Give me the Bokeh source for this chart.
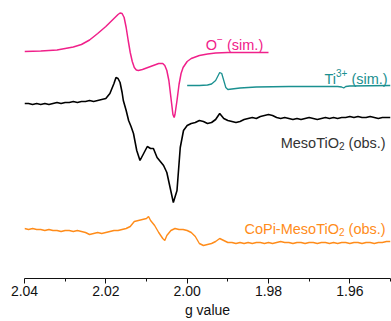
from bokeh.plotting import figure
from bokeh.models import Range1d, FixedTicker, PrintfTickFormatter, Label
from bokeh.embed import file_html
from bokeh.resources import INLINE

# ---------------- data (g value vs. EPR intensity, arbitrary units with offsets) -------------
g_ticks = [2.04, 2.02, 2.00, 1.98, 1.96]
g_minor = [2.03, 2.01, 1.99, 1.97, 1.95]

# O- simulation (magenta)
g_o = [2.040, 2.036, 2.032, 2.030, 2.028, 2.026, 2.024, 2.022, 2.020, 2.019, 2.018, 2.017,
       2.0165, 2.016, 2.0155, 2.015, 2.0145, 2.014, 2.0135, 2.013, 2.0125, 2.012, 2.011, 2.010,
       2.009, 2.008, 2.007, 2.006, 2.0055, 2.005, 2.0045, 2.004, 2.0035, 2.0032, 2.003, 2.0025,
       2.002, 2.0015, 2.001, 2.000, 1.999, 1.997, 1.995, 1.993, 1.990, 1.985, 1.980]
i_o = [227, 227.5, 228.5, 230, 231.5, 234, 238.5, 245, 252, 256, 260, 264,
       265.5, 265, 261, 251, 238, 226, 217, 211, 208.5, 208, 209, 210.5,
       212, 213.5, 215, 215, 213, 208, 198, 181, 164, 161, 164, 178,
       194, 205, 211, 217, 220, 223, 224.5, 225.5, 226, 226, 226]

# Ti3+ simulation (teal)
g_ti = [2.000, 1.997, 1.995, 1.994, 1.993, 1.9925, 1.992, 1.9915, 1.991, 1.9905, 1.990,
        1.989, 1.987, 1.983, 1.975, 1.963, 1.962, 1.9615, 1.961, 1.960, 1.950]
i_ti = [193, 193, 193.5, 194.5, 198, 202, 206, 205, 198, 191, 189,
        189.5, 190.5, 191.5, 192, 192, 191.5, 190.5, 192, 192.5, 193]

# MesoTiO2 observed (black)
g_meso = [2.040, 2.039, 2.038, 2.037, 2.036, 2.035, 2.034, 2.033, 2.032, 2.031, 2.030,
          2.029, 2.028, 2.027, 2.026, 2.025, 2.024, 2.023, 2.022, 2.021,
          2.020, 2.019, 2.018, 2.0175, 2.017, 2.0165, 2.016, 2.0157, 2.015, 2.0144, 2.0138,
          2.0132, 2.0124, 2.0116, 2.0107, 2.0098, 2.0090, 2.0083, 2.0074, 2.0066, 2.0058,
          2.0050, 2.0042, 2.0034, 2.0025, 2.0017, 2.0009, 2.000,
          1.999, 1.998, 1.997, 1.996, 1.995, 1.994, 1.993, 1.992, 1.991, 1.990,
          1.989, 1.988, 1.987, 1.986, 1.985, 1.984, 1.983, 1.982, 1.981, 1.980,
          1.979, 1.978, 1.977, 1.976, 1.975, 1.974, 1.973, 1.972, 1.971, 1.970,
          1.969, 1.968, 1.967, 1.966, 1.965, 1.964, 1.963, 1.962, 1.961, 1.960,
          1.959, 1.958, 1.957, 1.956, 1.955, 1.954, 1.953, 1.952, 1.951, 1.950]
i_meso = [175, 175, 174, 175, 174, 175, 174, 175, 176, 175, 176,
          176, 177, 176, 177, 177, 178, 177, 178, 179,
          180, 185, 195, 201, 200, 196, 186, 178, 168, 158, 152,
          145, 128, 118, 125, 132, 130, 130, 121, 117, 113,
          106, 91, 76, 88, 131, 148, 153,
          155, 156, 158, 157, 155, 156, 159, 165, 160, 158,
          157, 156, 157, 159, 160, 161, 160, 162, 163, 164,
          163, 161, 160, 161, 160, 159, 160, 159, 160, 161,
          160, 159, 160, 161, 160, 161, 160, 161, 161, 162,
          161, 162, 161, 161, 162, 161, 160, 161, 161, 161]

# CoPi-MesoTiO2 observed (orange)
g_copi = [2.040, 2.039, 2.038, 2.037, 2.036, 2.035, 2.034, 2.033, 2.032, 2.031, 2.030,
          2.029, 2.028, 2.027, 2.026, 2.025, 2.024, 2.023, 2.022, 2.021,
          2.020, 2.019, 2.018, 2.017, 2.016, 2.015, 2.014, 2.013, 2.012, 2.011, 2.010,
          2.0095, 2.009, 2.008, 2.007, 2.006, 2.0055, 2.005, 2.004, 2.003, 2.002, 2.001, 2.000,
          1.999, 1.998, 1.997, 1.996, 1.995, 1.994, 1.993, 1.992, 1.991, 1.990,
          1.989, 1.988, 1.987, 1.986, 1.985, 1.984, 1.983, 1.982, 1.981, 1.980,
          1.979, 1.978, 1.977, 1.976, 1.975, 1.974, 1.973, 1.972, 1.971, 1.970,
          1.969, 1.968, 1.967, 1.966, 1.965, 1.964, 1.963, 1.962, 1.961, 1.960,
          1.959, 1.958, 1.957, 1.956, 1.955, 1.954, 1.953, 1.952, 1.951, 1.950]
i_copi = [50, 49, 50, 49, 49, 48, 49, 48, 48, 47, 48,
          48, 47, 48, 47, 46, 44, 45, 46, 45,
          46, 47, 48, 48, 49, 50, 52, 57, 58, 59, 60,
          62, 58, 53, 46, 40, 38, 43, 48, 50, 49, 49, 48,
          46, 42, 35, 33, 34, 35, 37, 40, 38, 36,
          36, 35, 36, 35, 36, 35, 36, 36, 35, 36,
          35, 36, 37, 36, 36, 35, 36, 36, 35, 36,
          36, 35, 36, 36, 35, 36, 35, 36, 36, 35,
          36, 36, 35, 36, 36, 35, 36, 36, 37, 37]

# trace labels: (main text, script text, script kind, tail text)
label_main = ["O", "Ti", "MesoTiO", "CoPi-MesoTiO"]
label_script = ["\u2212", "3+", "2", "2"]
label_kind = ["sup", "sup", "sub", "sub"]
label_tail = ["(sim.)", "(sim.)", "(obs.)", "(obs.)"]
label_g = [1.9813, 1.9507, 1.9512, 1.9512]   # right edge of each label
label_i = [234, 200, 136, 50]                # baseline of each label

c_o = "#F0208A"
c_ti = "#1A9090"
c_meso = "#000000"
c_copi = "#FF8C1A"
label_colors = [c_o, c_ti, "#333333", c_copi]

FONT = "Liberation Sans"
MAIN_PX = 14.5
SCRIPT_PX = 10
# Arial / Liberation Sans advance widths (1/1000 em) used to chain label pieces
ADV = {"M": 833, "e": 556, "s": 500, "o": 556, "T": 611, "i": 222, "O": 778, " ": 278,
       "(": 333, ")": 333, "b": 556, ".": 278, "m": 833, "C": 722, "P": 667, "-": 333,
       "2": 556, "3": 556, "+": 584, "\u2212": 584}


def text_w(s, px):
    return sum(ADV.get(ch, 556) for ch in s) * px / 1000.0


p = figure(width=391, height=321, output_backend="svg", toolbar_location=None,
           x_range=Range1d(2.04, 1.95), y_range=Range1d(0, 270),
           y_axis_location=None, min_border_left=24, min_border_right=1,
           min_border_top=8, min_border_bottom=43)
p.outline_line_color = None
p.xgrid.visible = False
p.ygrid.visible = False
p.background_fill_color = "white"
p.border_fill_color = "white"

p.line(g_o, i_o, line_color=c_o, line_width=1.5)
p.line(g_ti, i_ti, line_color=c_ti, line_width=1.3)
p.line(g_meso, i_meso, line_color=c_meso, line_width=1.6)
p.line(g_copi, i_copi, line_color=c_copi, line_width=1.4)

for main, scr, kind, tail, gx, iy, col in zip(label_main, label_script, label_kind, label_tail,
                                               label_g, label_i, label_colors):
    common = dict(x=gx, y=iy, text_align="right", text_baseline="alphabetic",
                  text_color=col, text_font=FONT)
    off = 0.0
    p.add_layout(Label(text=tail, x_offset=-off, text_font_size=f"{MAIN_PX}px", **common))
    off += text_w(tail, MAIN_PX) + text_w(" ", MAIN_PX)
    dy = 6 if kind == "sup" else -3
    p.add_layout(Label(text=scr, x_offset=-off, y_offset=dy, text_font_size=f"{SCRIPT_PX}px", **common))
    off += text_w(scr, SCRIPT_PX)
    p.add_layout(Label(text=main, x_offset=-off, text_font_size=f"{MAIN_PX}px", **common))

ax = p.xaxis[0]
ax.ticker = FixedTicker(ticks=g_ticks, minor_ticks=g_minor)
ax.formatter = PrintfTickFormatter(format="%.2f")
ax.axis_label = "g value"
ax.axis_label_text_font = FONT
ax.axis_label_text_font_style = "normal"
ax.axis_label_text_font_size = "14px"
ax.axis_label_text_color = "#111111"
ax.axis_label_standoff = 3
ax.major_label_text_font = FONT
ax.major_label_text_font_size = "14px"
ax.major_label_text_color = "#111111"
ax.major_label_standoff = 2
ax.major_tick_out = 5
ax.major_tick_in = 0
ax.minor_tick_out = 3
ax.minor_tick_in = 0
ax.axis_line_color = "#111111"
ax.major_tick_line_color = "#111111"
ax.minor_tick_line_color = "#111111"

open("out.html", "w").write(file_html(p, INLINE))
